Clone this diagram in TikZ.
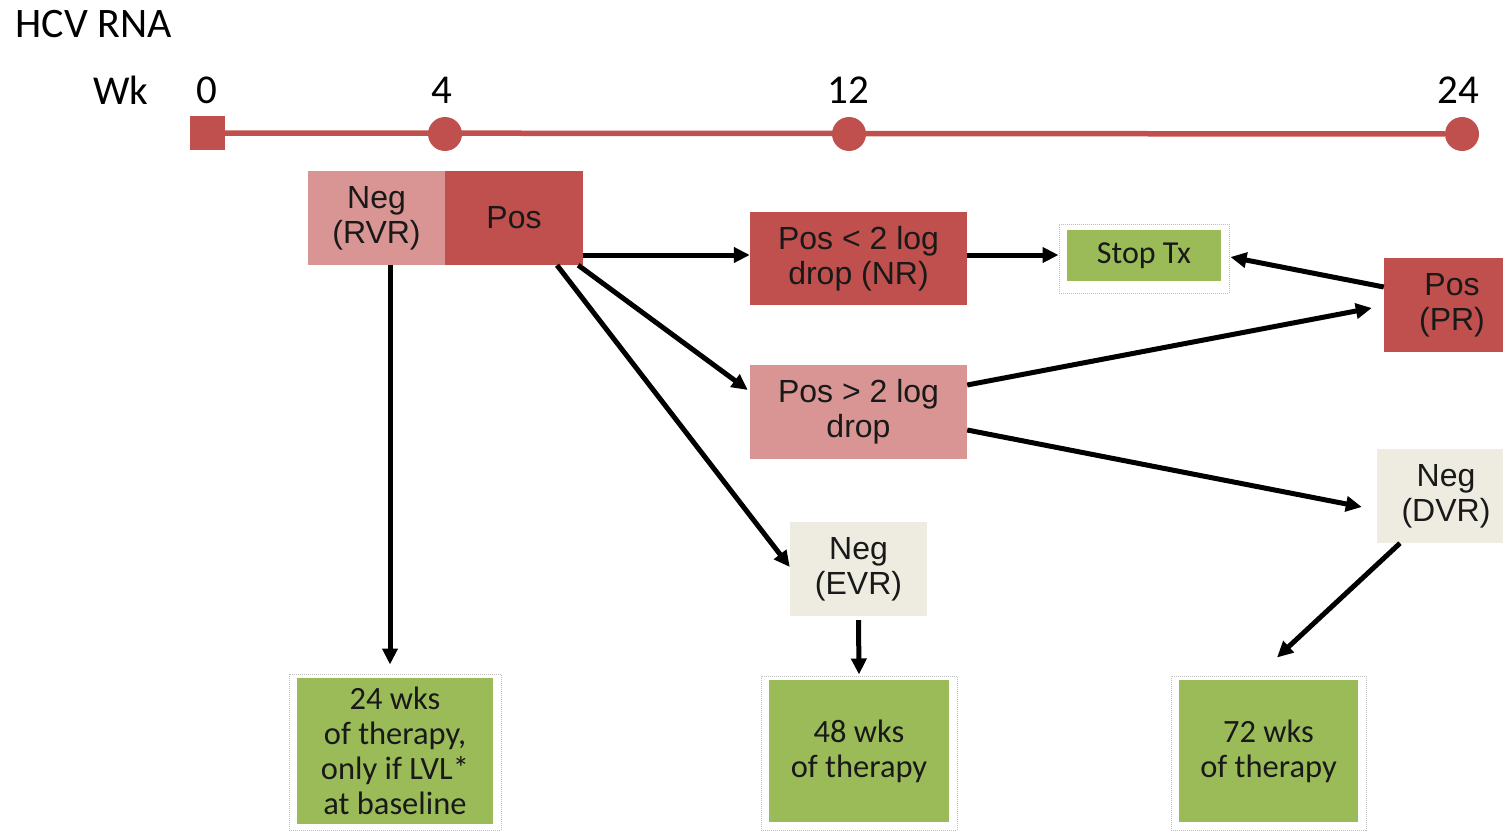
\documentclass[tikz,border=0pt]{standalone}
\usepackage{fontspec}
\setmainfont{Carlito}
\newfontfamily\arialfont{Liberation Sans}
\usetikzlibrary{positioning, arrows.meta, calc}

\definecolor{hcvred}{HTML}{C0504D}
\definecolor{hcvpink}{HTML}{D99594}
\definecolor{hcvbeige}{HTML}{EEECE1}
\definecolor{hcvgreen}{HTML}{9BBB59}
\definecolor{framegray}{HTML}{BFBFBF}

\begin{document}
\begin{tikzpicture}[
    x=1pt, y=-1pt,
    >={Triangle[length=16pt,width=15pt]},
    font=\fontsize{32}{35}\selectfont,
    state/.style={
        inner sep=0pt, align=center, text=black!90,
        font=\arialfont\fontsize{32}{35}\selectfont,
    },
    redbox/.style={state, fill=hcvred},
    pinkbox/.style={state, fill=hcvpink},
    beigebox/.style={state, fill=hcvbeige},
    frame/.style={draw=framegray, densely dotted, line width=1pt, fill=white, inner sep=0pt},
    outcome/.style={
        fill=hcvgreen, inner sep=0pt, align=center, text=black!90,
        font=\fontsize{32.5}{35}\selectfont,
    },
    arr/.style={->, line width=5pt, draw=black},
    tick/.style={fill=hcvred, inner sep=0pt},
    wklabel/.style={font=\fontsize{41}{44}\selectfont, text=black},
]
\useasboundingbox (0,0) rectangle (1503,832);

% timeline
\node[anchor=west, font=\fontsize{42}{46}\selectfont] (title) at (12,24) {HCV RNA};
\node[wklabel] (wk) at (121,90) {Wk};

\node[tick, minimum width=35pt, minimum height=34pt] (tick0) at (207.5,133) {};
\node[tick, circle, minimum size=34pt] (tick4) at (445,134) {};
\node[tick, circle, minimum size=34pt] (tick12) at (849,134) {};
\node[tick, circle, minimum size=34pt] (tick24) at (1462,134) {};
\draw[hcvred, line width=5.5pt] (tick0) -- (tick24);

\node[wklabel] (lab0) at (207,90) {0};
\node[wklabel] (lab4) at (442,90) {4};
\node[wklabel] (lab12) at (848,90) {12};
\node[wklabel] (lab24) at (1458,90) {24};

% responses
\node[pinkbox, minimum width=137pt, minimum height=94pt] (rvr) at (376.5,218) {Neg\\(RVR)};
\node[redbox, minimum width=138pt, minimum height=94pt] (pos) at (514,218) {Pos};
\node[redbox, minimum width=217pt, minimum height=93pt] (nr) at (858.5,258.5) {Pos < 2 log\\drop (NR)};
\node[pinkbox, minimum width=217pt, minimum height=94pt] (pgt) at (858.5,412) {Pos > 2 log\\drop};
\node[redbox, minimum width=136pt, minimum height=94pt] (pr) at (1452,305) {Pos\\(PR)};
\node[beigebox, minimum width=138pt, minimum height=94pt] (dvr) at (1446,496) {Neg\\(DVR)};
\node[beigebox, minimum width=137pt, minimum height=94pt] (evr) at (858.5,569) {Neg\\(EVR)};

% outcomes
\node[frame, minimum width=170pt, minimum height=69pt] (stopframe) at (1144,258.5) {};
\node[outcome, minimum width=154pt, minimum height=51pt, font=\fontsize{32}{35}\selectfont] (stop) at (1144,255.5) {Stop Tx};

\node[frame, minimum width=212pt, minimum height=156pt] (g24frame) at (395,752) {};
\node[outcome, minimum width=196pt, minimum height=146pt] (g24) at (395,751) {24 wks\\of therapy,\\only if LVL*\\at baseline};

\node[frame, minimum width=196pt, minimum height=154pt] (g48frame) at (859,753) {};
\node[outcome, minimum width=180pt, minimum height=142pt] (g48) at (859,751) {48 wks\\of therapy};

\node[frame, minimum width=195pt, minimum height=154pt] (g72frame) at (1268.5,753) {};
\node[outcome, minimum width=179pt, minimum height=142pt] (g72) at (1268.5,751) {72 wks\\of therapy};

% arrows
\draw[arr] ([xshift=13.5pt]rvr.south) -- ([xshift=-5pt,yshift=9pt]g24frame.north);
\draw[arr] ([yshift=-37pt]pos.east) -- ([yshift=3.5pt]nr.west);
\draw[arr] ([xshift=-5pt]pos.south east) -- ([xshift=-2pt,yshift=22pt]pgt.west);
\draw[arr] ([xshift=43pt]pos.south) -- ([yshift=2pt]evr.west);
\draw[arr] ([yshift=3.5pt]nr.east) -- ([yshift=3.5pt]stopframe.west);
\draw[arr] ([yshift=18pt]pr.west) -- ([xshift=1pt,yshift=1.5pt]stopframe.east);
\draw[arr] ([yshift=27pt]pgt.east) -- ([xshift=-12pt,yshift=-3pt]pr.west);
\draw[arr] ([yshift=-18pt]pgt.east) -- ([xshift=-15pt,yshift=-11pt]dvr.west);
\draw[arr] ([yshift=-4pt]evr.south) -- ([yshift=1pt]g48frame.north);
\draw[arr] ([xshift=-46pt]dvr.south) -- ([xshift=8.5pt,yshift=18pt]g72frame.north);

\end{tikzpicture}
\end{document}
